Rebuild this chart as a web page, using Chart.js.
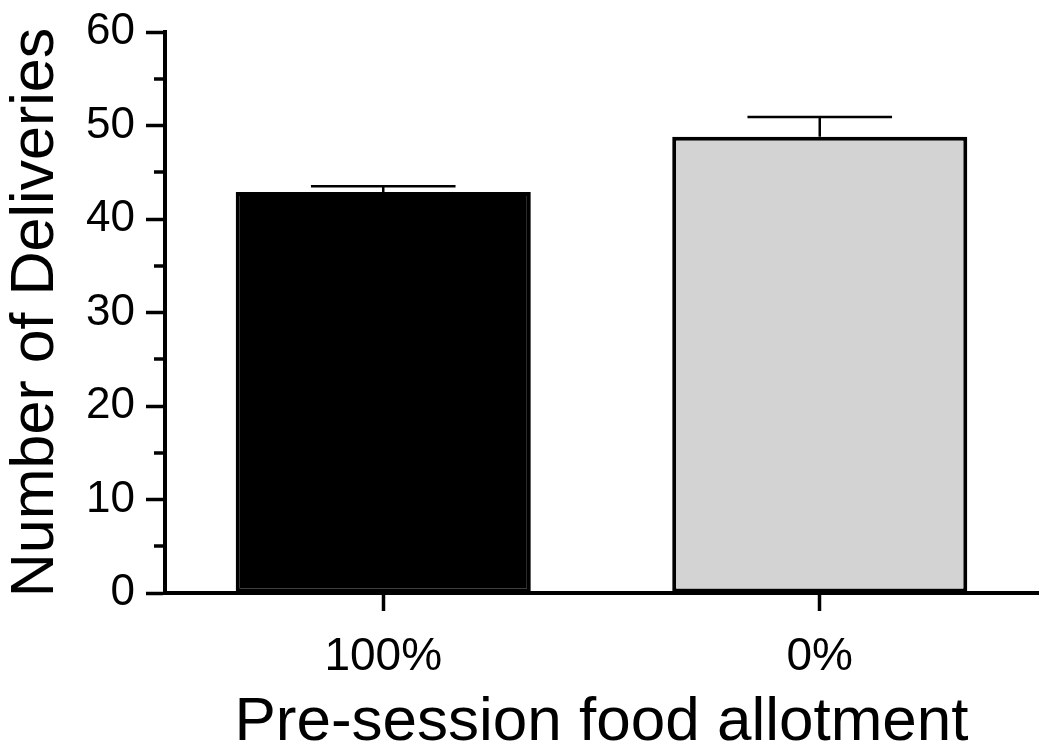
<!DOCTYPE html>
<html>
<head>
<meta charset="utf-8">
<script src="https://cdn.jsdelivr.net/npm/chart.js@4/dist/chart.umd.min.js"></script>
<style>
    body { margin: 0; background: #fff; }
    #wrap { width: 1050px; height: 755px; }
</style>
</head>
<body>
<div id="wrap"><canvas id="chart"></canvas></div>
<script>
const categories = ["100%", "0%"];
const deliveries = [42.9, 48.8];
const errors = [0.6, 2.1];
const barColors = ["#000000", "#d3d3d3"];
const yTicks = [0, 10, 20, 30, 40, 50, 60];

const FONT = "'Liberation Sans', Arial, sans-serif";

// draws the upper error bars and the minor ticks on the y axis
const extras = {
    id: 'extras',
    afterDatasetsDraw(chart) {
        const ctx = chart.ctx;
        const y = chart.scales.y;
        const meta = chart.getDatasetMeta(0);
        ctx.save();
        ctx.strokeStyle = "#000";
        ctx.lineWidth = 2.5;
        meta.data.forEach((bar, i) => {
            let top = y.getPixelForValue(deliveries[i] + errors[i]);
            let half = bar.width * 0.245;
            ctx.beginPath();
            ctx.moveTo(bar.x, bar.y);
            ctx.lineTo(bar.x, top);
            ctx.moveTo(bar.x - half, top);
            ctx.lineTo(bar.x + half, top);
            ctx.stroke();
        });
        ctx.restore();
    },
    afterDraw(chart) {
        const ctx = chart.ctx;
        const y = chart.scales.y;
        ctx.save();
        ctx.strokeStyle = "#000";
        ctx.lineWidth = 3.5;
        for (let v = 5; v < 60; v += 10) {
            let py = Math.round(y.getPixelForValue(v));
            ctx.beginPath();
            ctx.moveTo(chart.chartArea.left - 11, py);
            ctx.lineTo(chart.chartArea.left, py);
            ctx.stroke();
        }
        ctx.restore();
    }
};

new Chart(document.getElementById('chart'), {
    type: 'bar',
    data: {
        labels: categories,
        datasets: [{
            data: deliveries,
            backgroundColor: barColors,
            borderColor: "#000",
            borderWidth: 4,
            borderSkipped: false,
            barPercentage: 0.676,
            categoryPercentage: 1
        }]
    },
    options: {
        responsive: true,
        maintainAspectRatio: false,
        animation: false,
        layout: { padding: { top: 32, right: 12, bottom: 0, left: 0 } },
        plugins: {
            legend: { display: false },
            tooltip: { enabled: false }
        },
        scales: {
            x: {
                offset: true,
                grid: {
                    offset: false,
                    drawOnChartArea: false,
                    tickLength: 18,
                    tickWidth: 3.5,
                    tickColor: "#000"
                },
                border: { color: "#000", width: 4 },
                ticks: { color: "#000", padding: 19, font: { family: FONT, size: 46 } },
                title: {
                    display: true,
                    text: "Pre-session food allotment",
                    color: "#000",
                    padding: { top: 0, bottom: 0 },
                    font: { family: FONT, size: 62, lineHeight: 1.05 }
                },
                afterFit(scale) { scale.height = 162; }
            },
            y: {
                min: 0,
                max: 60,
                afterBuildTicks(scale) { scale.ticks = yTicks.map(v => ({ value: v })); },
                grid: {
                    drawOnChartArea: false,
                    tickLength: 19,
                    tickWidth: 3.5,
                    tickColor: "#000"
                },
                border: { color: "#000", width: 4 },
                ticks: { color: "#000", padding: 11, font: { family: FONT, size: 44, lineHeight: 0.8 } },
                title: {
                    display: true,
                    text: "Number of Deliveries",
                    color: "#000",
                    padding: { top: 0, bottom: 0 },
                    font: { family: FONT, size: 61 }
                },
                afterFit(scale) { scale.width = 165; scale.paddingTop = 0; }
            }
        }
    },
    plugins: [extras]
});
</script>
</body>
</html>
